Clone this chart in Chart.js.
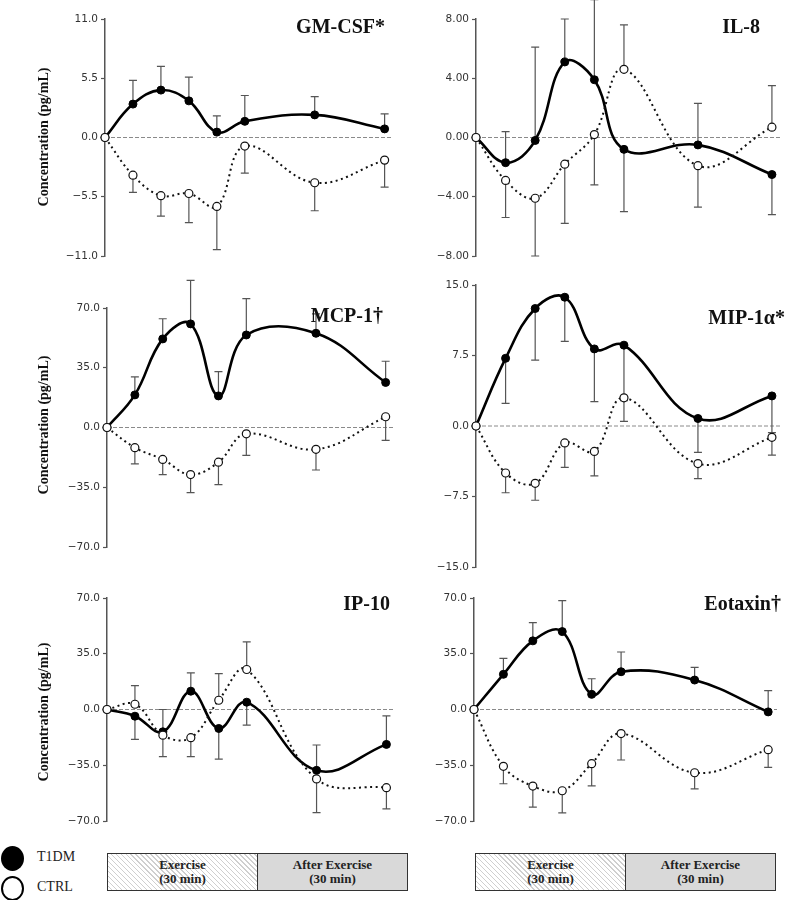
<!DOCTYPE html>
<html>
<head>
<meta charset="utf-8">
<script src="https://cdn.jsdelivr.net/npm/chart.js@4"></script>
<style>
  html, body { margin: 0; padding: 0; background: #fff; }
  #wrap { position: relative; width: 786px; height: 900px; overflow: hidden; background: #fff; }
  canvas { position: absolute; }
  .ptitle { position: absolute; font-family: "Liberation Serif", "Times New Roman", serif; font-weight: bold; font-size: 20px; color: #111; white-space: nowrap; text-align: right; line-height: 20px; }
  .ytitle { position: absolute; font-family: "Liberation Serif", "Times New Roman", serif; font-weight: bold; font-size: 14px; color: #111; white-space: nowrap; transform: translate(-50%, -50%) rotate(-90deg); left: 44px; }
  .leg { position: absolute; font-family: "Liberation Serif", "Times New Roman", serif; font-size: 14px; color: #222; }
  .dot { position: absolute; border-radius: 50%; box-sizing: border-box; }
  .box { position: absolute; height: 38px; border: 1.5px solid #333; box-sizing: border-box; display: flex; }
  .half { flex: 1; display: flex; align-items: center; justify-content: center; text-align: center; font-family: "Liberation Serif", "Times New Roman", serif; font-weight: bold; font-size: 13px; line-height: 14px; color: #222; }
  .hatch { background: repeating-linear-gradient(45deg, #fff 0px, #fff 2.5px, #cfcfcf 2.5px, #cfcfcf 3.5px); border-right: 1.5px solid #333; }
  .gray { background: #d9d9d9; }
</style>
</head>
<body>
<div id="wrap">
  <canvas id="c1" width="400" height="270" style="left:0px;top:0px"></canvas>
  <canvas id="c2" width="393" height="270" style="left:393px;top:0px"></canvas>
  <canvas id="c3" width="400" height="290" style="left:0px;top:275px"></canvas>
  <canvas id="c4" width="393" height="305" style="left:393px;top:275px"></canvas>
  <canvas id="c5" width="400" height="260" style="left:0px;top:580px"></canvas>
  <canvas id="c6" width="393" height="260" style="left:393px;top:580px"></canvas>

  <div class="ptitle" style="right:401px;top:16px">GM-CSF*</div>
  <div class="ptitle" style="right:26px;top:16px">IL-8</div>
  <div class="ptitle" style="right:403px;top:305px">MCP-1†</div>
  <div class="ptitle" style="right:1px;top:307px">MIP-1α*</div>
  <div class="ptitle" style="right:396px;top:593px">IP-10</div>
  <div class="ptitle" style="right:5px;top:593px">Eotaxin†</div>

  <div class="ytitle" style="top:137px">Concentration (pg/mL)</div>
  <div class="ytitle" style="top:425px">Concentration (pg/mL)</div>
  <div class="ytitle" style="top:712px">Concentration (pg/mL)</div>

  <div class="dot" style="left:1px;top:846px;width:23px;height:25px;background:#000"></div>
  <div class="dot" style="left:1px;top:876px;width:23px;height:25px;border:2px solid #000;background:#fff"></div>
  <div class="leg" style="left:37px;top:849px">T1DM</div>
  <div class="leg" style="left:37px;top:879px">CTRL</div>

  <div class="box" style="left:107px;top:853px;width:301px">
    <div class="half hatch">Exercise<br>(30 min)</div>
    <div class="half gray">After Exercise<br>(30 min)</div>
  </div>
  <div class="box" style="left:475px;top:853px;width:301px">
    <div class="half hatch">Exercise<br>(30 min)</div>
    <div class="half gray">After Exercise<br>(30 min)</div>
  </div>
</div>

<script>
// ---------- DATA ----------
const times = [0, 5, 10, 15, 20, 25, 37.5, 50];

const gmcsfT1DM    = [0, 3.1, 4.4, 3.4, 0.5, 1.5, 2.1, 0.8];
const gmcsfT1DMErr = [0, 2.2, 2.2, 2.2, 1.5, 2.4, 1.7, 1.4];
const gmcsfCTRL    = [0, -3.5, -5.4, -5.2, -6.4, -0.8, -4.2, -2.1];
const gmcsfCTRLErr = [0, -1.6, -1.9, -2.7, -4.0, -2.5, -2.6, -2.5];
const gmcsfTicks   = [11, 5.5, 0, -5.5, -11];

const il8T1DM    = [0, -1.7, -0.2, 5.1, 3.9, -0.8, -0.5, -2.5];
const il8T1DMErr = [0, 2.1, 6.3, 2.9, 5.4, -4.2, 2.8, -2.7];
const il8CTRL    = [0, -2.9, -4.1, -1.8, 0.2, 4.6, -1.9, 0.7];
const il8CTRLErr = [0, -2.5, -3.9, -4.0, -3.4, 3.0, -2.8, 2.8];
const il8Ticks   = [8, 4, 0, -4, -8];

const mcp1T1DM    = [0, 19.1, 51.9, 60.7, 18.5, 54.2, 55.2, 26.4];
const mcp1T1DMErr = [0, 10.5, 11.8, 25.5, 14.2, 21.3, 11.4, 12.4];
const mcp1CTRL    = [0, -11.8, -18.7, -27.6, -20.3, -3.7, -12.8, 6.3];
const mcp1CTRLErr = [0, -9.5, -8.9, -10.5, -13.2, -12.6, -12.1, -13.8];
const mcp1Ticks   = [70, 35, 0, -35, -70];

const mip1aT1DM    = [0, 7.2, 12.5, 13.7, 8.2, 8.6, 0.8, 3.2];
const mip1aT1DMErr = [0, -4.8, -5.5, -4.7, -5.6, -5.9, -3.6, -3.9];
const mip1aCTRL    = [0, -5.0, -6.1, -1.8, -2.7, 3.0, -4.0, -1.2];
const mip1aCTRLErr = [0, -2.1, -1.8, -2.6, -2.6, -2.5, -1.6, -1.9];
const mip1aTicks   = [15, 7.5, 0, -7.5, -15];

const ip10T1DM    = [0, -4.2, -14.0, 11.5, -11.9, 4.6, -38.2, -21.9];
const ip10T1DMErr = [0, -14.6, 14.0, 11.5, -19.2, -14.4, 15.9, 17.9];
const ip10CTRL    = [0, 3.3, -16.1, -17.7, 5.8, 25.1, -43.6, -49.1];
const ip10CTRLErr = [0, 11.7, -13.5, -11.9, 16.7, 17.3, -21.1, -13.3];
const ip10Ticks   = [70, 35, 0, -35, -70];

const eotaxinT1DM    = [0, 22.1, 43.1, 48.9, 9.5, 23.7, 18.5, -1.5];
const eotaxinT1DMErr = [0, 10.0, 11.5, 19.4, 9.8, 12.4, 8.0, 13.3];
const eotaxinCTRL    = [0, -35.7, -48.1, -51.0, -34.0, -15.1, -39.7, -25.2];
const eotaxinCTRLErr = [0, -10.9, -13.2, -13.9, -13.9, -16.6, -10.1, -11.1];
const eotaxinTicks   = [70, 35, 0, -35, -70];

// ---------- PLUGIN: zero line + error bars ----------
const extras = {
  id: 'extras',
  beforeDatasetsDraw(chart) {
    const ctx = chart.ctx, ca = chart.chartArea, ys = chart.scales.y;
    const y0 = ys.getPixelForValue(0);
    ctx.save();
    ctx.strokeStyle = '#8a8a8a';
    ctx.lineWidth = 1;
    ctx.setLineDash([4, 2]);
    ctx.beginPath();
    ctx.moveTo(ca.left, y0);
    ctx.lineTo(ca.right, y0);
    ctx.stroke();
    ctx.setLineDash([]);
    ctx.strokeStyle = '#555';
    ctx.lineWidth = 1.2;
    chart.data.datasets.forEach((ds, di) => {
      const meta = chart.getDatasetMeta(di);
      (ds.errors || []).forEach((e, i) => {
        if (!e) return;
        const pt = meta.data[i];
        const v = ds.data[i].y;
        const x = pt.x;
        const y1 = ys.getPixelForValue(v);
        const y2 = ys.getPixelForValue(v + e);
        ctx.beginPath();
        ctx.moveTo(x, y1);
        ctx.lineTo(x, y2);
        ctx.moveTo(x - 4, y2);
        ctx.lineTo(x + 4, y2);
        ctx.stroke();
      });
    });
    ctx.restore();
  }
};

function fmt(dec) {
  return v => {
    const s = Math.abs(v).toFixed(dec);
    return v < 0 ? '\u2212' + s : s;
  };
}

function makePanel(id, t1, t1e, c, ce, ticks, dec, axisW, padTop, padBottom, padRight) {
  const pts = arr => arr.map((y, i) => ({ x: times[i], y }));
  const maxV = ticks[0];
  new Chart(document.getElementById(id), {
    type: 'line',
    data: {
      datasets: [
        {
          label: 'CTRL', data: pts(c), errors: ce,
          borderColor: '#111', borderWidth: 2, borderDash: [2, 3.5],
          tension: 0.4, clip: false,
          pointRadius: 4, pointBackgroundColor: '#fff', pointBorderColor: '#111', pointBorderWidth: 1.2
        },
        {
          label: 'T1DM', data: pts(t1), errors: t1e,
          borderColor: '#000', borderWidth: 2.6,
          tension: 0.4, clip: false,
          pointRadius: 4, pointBackgroundColor: '#000', pointBorderColor: '#000', pointBorderWidth: 1
        }
      ]
    },
    options: {
      responsive: false,
      animation: false,
      devicePixelRatio: 1,
      layout: { padding: { top: padTop, bottom: padBottom, right: padRight, left: 0 } },
      plugins: { legend: { display: false }, tooltip: { enabled: false }, title: { display: false } },
      scales: {
        x: { type: 'linear', min: 0, max: 51.5, display: false },
        y: {
          min: -maxV, max: maxV,
          afterFit: s => { s.width = axisW; },
          afterBuildTicks: s => { s.ticks = ticks.map(v => ({ value: v })); },
          ticks: { callback: fmt(dec), color: '#333', padding: 3, font: { family: 'DejaVu Sans', size: 10.5 } },
          grid: { drawOnChartArea: false, tickLength: 4, tickColor: '#555', tickWidth: 1.2 },
          border: { color: '#555', width: 1.5 }
        }
      }
    },
    plugins: [extras]
  });
}

makePanel('c1', gmcsfT1DM, gmcsfT1DMErr, gmcsfCTRL, gmcsfCTRLErr, gmcsfTicks, 1, 105, 19, 14, 7);
makePanel('c2', il8T1DM, il8T1DMErr, il8CTRL, il8CTRLErr, il8Ticks, 2, 83, 19, 14, 5);
makePanel('c3', mcp1T1DM, mcp1T1DMErr, mcp1CTRL, mcp1CTRLErr, mcp1Ticks, 1, 107, 33, 18, 6);
makePanel('c4', mip1aT1DM, mip1aT1DMErr, mip1aCTRL, mip1aCTRLErr, mip1aTicks, 1, 83, 10, 13, 0);
makePanel('c5', ip10T1DM, ip10T1DMErr, ip10CTRL, ip10CTRLErr, ip10Ticks, 1, 107, 18, 19, 5);
makePanel('c6', eotaxinT1DM, eotaxinT1DMErr, eotaxinCTRL, eotaxinCTRLErr, eotaxinTicks, 1, 81, 18, 19, 9);
</script>
</body>
</html>
